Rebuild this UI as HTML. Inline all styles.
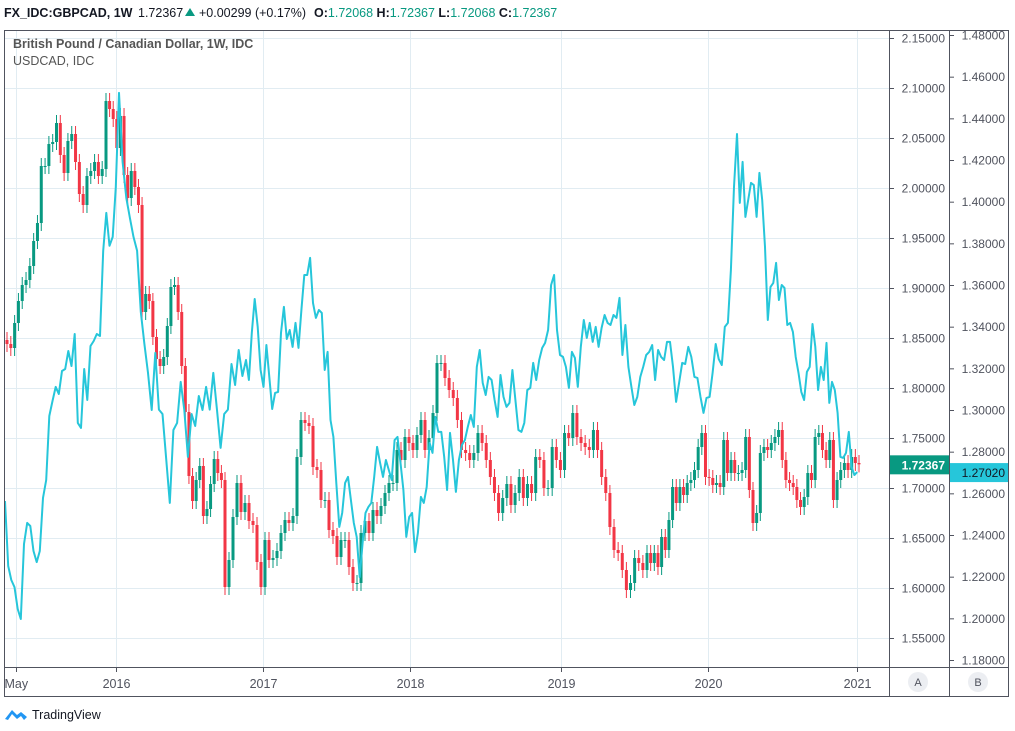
<!DOCTYPE html>
<html><head><meta charset="utf-8"><style>
html,body{margin:0;padding:0;background:#fff;width:1015px;height:731px;overflow:hidden;font-family:"Liberation Sans",sans-serif}
</style></head><body>
<svg id="chart" width="1015" height="731" xmlns="http://www.w3.org/2000/svg" font-family="Liberation Sans, sans-serif">
<g font-size="12.5">
<text x="4" y="17" fill="#131722" font-weight="bold">FX_IDC:GBPCAD, 1W</text>
<text x="138" y="17" fill="#131722">1.72367</text>
<path d="M185 16 L190 8 L195 16 Z" fill="#089981"/>
<text x="199" y="17" fill="#131722">+0.00299 (+0.17%)</text>
<text x="314" y="17" fill="#131722" font-weight="bold">O:<tspan fill="#089981" font-weight="normal">1.72068</tspan> H:<tspan fill="#089981" font-weight="normal">1.72367</tspan> L:<tspan fill="#089981" font-weight="normal">1.72068</tspan> C:<tspan fill="#089981" font-weight="normal">1.72367</tspan></text>
</g>
<g id="grid"></g>
<g id="series"></g>
<g font-size="12.5">
<text x="13" y="48" fill="#555" font-weight="bold">British Pound / Canadian Dollar, 1W, IDC</text>
<text x="13" y="65" fill="#555">USDCAD, IDC</text>
</g>
<g id="axes"></g>
<rect x="4.5" y="30.5" width="1004" height="666" fill="none" stroke="#50535e"/>
<line x1="4.5" y1="667.5" x2="1008.5" y2="667.5" stroke="#50535e"/>
<line x1="889.5" y1="30" x2="889.5" y2="697" stroke="#50535e"/>
<line x1="949.5" y1="30" x2="949.5" y2="697" stroke="#50535e"/>
<circle cx="918" cy="682" r="10" fill="#eceef2"/>
<text x="918" y="686" font-size="11" fill="#50535e" text-anchor="middle">A</text>
<circle cx="978" cy="682" r="10" fill="#eceef2"/>
<text x="978" y="686" font-size="11" fill="#50535e" text-anchor="middle">B</text>
<g>
<path d="M5 719 L12 710 L17 715 L21 712 L27 717 L24 720 L21 716 L17 719 L12 714 L8 720 Z" fill="#2196f3"/>
<text x="32" y="719" font-size="12.5" fill="#131722">TradingView</text>
</g>
</svg>
<script>
const gbpTicks=["1.55000","1.60000","1.65000","1.70000","1.75000","1.80000","1.85000","1.90000","1.95000","2.00000","2.05000","2.10000","2.15000"];
const usdTicks=["1.18000","1.20000","1.22000","1.24000","1.26000","1.28000","1.30000","1.32000","1.34000","1.36000","1.38000","1.40000","1.42000","1.44000","1.46000","1.48000"];
const timeLabels=["May","2016","2017","2018","2019","2020","2021"];
const timeLabelX=[16,116,263,410,561,708,857];
const gbpClose=[1.844,1.840,1.865,1.887,1.903,1.908,1.922,1.947,1.965,2.022,2.022,2.044,2.046,2.065,2.033,2.015,2.047,2.054,2.026,1.994,1.983,2.012,2.017,2.026,2.012,2.019,2.087,2.079,2.069,2.040,2.072,2.013,1.990,2.017,2.001,1.983,1.876,1.894,1.887,1.851,1.829,1.822,1.831,1.862,1.901,1.903,1.876,1.822,1.776,1.712,1.687,1.708,1.722,1.672,1.679,1.704,1.729,1.715,1.708,
1.601,1.628,1.671,1.705,1.676,1.685,1.667,1.663,1.626,1.601,1.648,1.628,1.63,1.637,1.655,1.668,1.665,1.672,1.731,1.768,1.765,1.762,1.721,1.718,1.688,1.688,1.658,1.652,1.631,1.648,1.648,1.621,1.605,1.605,1.655,1.667,1.655,1.678,1.672,1.682,1.695,1.705,1.705,1.738,1.728,1.751,1.745,1.738,1.753,1.768,1.738,1.75,1.775,1.825,1.825,1.81,
1.798,1.79,1.768,1.738,1.735,1.728,1.735,1.755,1.745,1.728,1.711,1.695,1.675,1.69,1.704,1.683,1.695,1.711,1.69,1.704,1.695,1.731,1.728,1.70,1.70,1.741,1.728,1.718,1.755,1.75,1.775,1.751,1.745,1.741,1.738,1.758,1.738,1.711,1.695,1.661,1.638,1.635,1.618,1.598,1.605,1.63,1.625,1.618,1.635,
1.625,1.635,1.621,1.651,1.638,1.668,1.701,1.685,1.701,1.693,1.705,1.708,1.718,1.741,1.755,1.711,1.71,1.703,1.705,1.701,1.748,1.715,1.728,1.715,1.715,1.718,1.751,1.698,1.665,1.675,1.735,1.741,1.738,1.745,1.751,1.758,1.728,1.708,1.705,1.701,1.688,1.681,1.691,1.715,1.708,1.751,1.755,1.738,1.728,1.748,1.688,1.708,1.718,1.725,1.718,1.731,1.725,1.72367];
const usdClose=[1.2563,1.2251,1.2184,1.2150,1.2045,1.1997,1.2357,1.2458,1.2443,1.2323,1.2270,1.2323,1.2578,1.2664,1.2971,1.3043,1.3111,1.3077,1.3187,1.3197,1.3283,1.3211,1.3365,1.2938,1.2914,1.3197,1.3048,1.3307,1.3331,1.3365,1.3355,1.3764,1.3946,1.3788,1.3831,1.4071,1.4522,1.4191,1.4018,1.3922,1.3831,1.3764,1.3471,1.3317,1.3178,1.3000,1.3274,1.3002,1.2981,1.2765,1.2554,1.2904,1.2938,1.3135,1.3000,1.2775,1.2981,1.2923,1.3067,1.3000,1.3111,1.3002,1.3178,1.3000,1.2818,1.2981,1.3002,1.3221,1.3120,1.3288,1.3163,
1.3240,1.3144,1.3370,1.3533,1.3399,1.3192,1.3111,1.3312,1.3159,1.3005,1.3082,1.3087,1.3370,1.3495,1.3341,1.3384,1.3303,1.3418,1.3298,1.3480,1.3648,1.3648,1.3730,1.3514,1.3442,1.3480,1.3466,1.3192,1.3279,1.2952,1.2871,1.2650,1.2439,1.2506,1.2650,1.2679,1.2568,1.2458,1.2391,1.2198,1.2362,1.2506,1.2535,1.2554,1.2679,1.2823,1.2746,1.2679,1.2760,1.2712,1.2664,1.2856,1.2871,1.2746,1.2616,1.2391,1.2487,1.2506,1.2318,1.2410,1.2583,1.2554,1.2631,1.2842,1.2794,1.2967,1.2895,1.2895,1.2775,1.2616,
1.2890,1.2760,1.2607,1.2760,1.2832,1.2856,1.2919,1.2976,1.2919,1.3207,1.3288,1.3130,1.3072,1.3159,1.3144,1.3048,1.2967,1.3168,1.3063,1.3015,1.3034,1.3192,1.3048,1.2904,1.2895,1.2938,1.3096,1.3106,1.3226,1.3144,1.3240,1.3298,1.3322,1.3384,1.3600,1.3648,1.3384,1.3264,1.3255,1.3207,1.3106,1.3279,1.3250,1.3111,1.3303,1.3432,1.3346,1.3418,1.3327,1.3399,1.3303,1.3394,1.3456,1.3418,1.3408,1.3456,1.3442,1.3538,1.3264,1.3408,1.3207,1.3111,1.3024,1.3063,1.3159,1.3207,1.3264,1.3279,1.3312,1.3144,1.3288,1.3255,1.3240,1.3327,
1.3327,1.3207,1.3039,1.3130,1.3226,1.3221,1.3303,1.3255,1.3159,1.3154,1.3063,1.2986,1.3058,1.3063,1.3178,1.3317,1.3245,1.3216,1.3399,1.3418,1.3672,1.4071,1.4325,1.3994,1.4191,1.3927,1.4008,1.4090,1.4080,1.3927,1.4138,1.4008,1.3783,1.3432,1.3591,1.3610,1.3706,1.3528,1.3600,1.3586,1.3408,1.3418,1.3375,1.3255,1.3178,1.3087,1.3048,1.3183,1.3207,1.3413,1.3303,1.3096,1.3207,1.3144,1.3322,1.3034,1.3135,1.3096,1.2986,1.2775,1.2770,1.2794,1.2895,1.2727,1.2688,1.2702];
// piecewise time-axis calibration (sample index -> time position)
const gbpAnchorIdx=[0,26,59,114,163,221];
const gbpAnchorX=[7,106,225,445,647,859];
const usdAnchorIdx=[0,36,71,141,215,237,281];
const usdAnchorX=[5,119,246,450,670,737,860];
const NS='http://www.w3.org/2000/svg';
function pw(ai,ax,i){for(let k=1;k<ai.length;k++){if(i<=ai[k]||k==ai.length-1){return ax[k-1]+(ax[k]-ax[k-1])*(i-ai[k-1])/(ai[k]-ai[k-1]);}}}
const gx=i=>pw(gbpAnchorIdx,gbpAnchorX,i);
const ux=i=>pw(usdAnchorIdx,usdAnchorX,i);
const yA=v=>488-(v-1.70)*1000;
const yB=v=>660-(v-1.18)*2083.3;
function mk(tag,attrs,parent){const e=document.createElementNS(NS,tag);for(const k in attrs)e.setAttribute(k,attrs[k]);parent.appendChild(e);return e;}
const grid=document.getElementById('grid'),ser=document.getElementById('series'),axes=document.getElementById('axes');
gbpTicks.forEach(t=>{const y=yA(parseFloat(t));
 const l=mk('line',{x1:5,x2:889,y1:y+.5,y2:y+.5,stroke:'#e1ecf2'},grid);
 
 
 const tk=mk('line',{x1:889,x2:894,y1:y+.5,y2:y+.5,stroke:'#50535e'},axes);
 
 
 const tx=mk('text',{x:945,y:y+4.5,'font-size':12,fill:'#50535e','text-anchor':'end'},axes);tx.textContent=t;
 
 
});
usdTicks.forEach(t=>{const y=yB(parseFloat(t));
 const tk=mk('line',{x1:949,x2:954,y1:y+.5,y2:y+.5,stroke:'#50535e'},axes);
 
 
 const tx=mk('text',{x:1005,y:y+4.5,'font-size':12,fill:'#50535e','text-anchor':'end'},axes);tx.textContent=t;
 
 
});
timeLabels.forEach((t,k)=>{const x=timeLabelX[k]+.5;
 const l=mk('line',{x1:x,x2:x,y1:31,y2:667,stroke:'#e1ecf2'},grid);
 
 
 const tk=mk('line',{x1:x,x2:x,y1:667,y2:672,stroke:'#50535e'},axes);
 
 
 const tx=mk('text',{x:k==0?x-12:x,y:688,'font-size':12.5,fill:'#50535e','text-anchor':k==0?'start':'middle'},axes);tx.textContent=t;
 
 
});
gbpClose.forEach((c,i)=>{const o=i?gbpClose[i-1]:c+0.004;const up=c>=o;const col=up?'#089981':'#f23645';
 const x=gx(i);const yt=yA(Math.max(o,c)),yb=yA(Math.min(o,c));
 const w=mk('line',{x1:x,x2:x,y1:yt-8,y2:yb+8,stroke:col,'stroke-width':1},ser);
 
 
 const r=mk('rect',{x:x-1.5,y:yt,width:3,height:Math.max(1,yb-yt),fill:col},ser);
 
 
});
const pts=usdClose.map((v,i)=>ux(i).toFixed(1)+','+yB(v).toFixed(1)).join(' ');
const pl=mk('polyline',{points:pts,fill:'none',stroke:'#26c6da','stroke-width':2,'stroke-linejoin':'round'},ser);


const lastA=gbpClose[gbpClose.length-1],lastB=usdClose[usdClose.length-1];
const ra=mk('rect',{x:889,y:yA(lastA)-9,width:60,height:19,fill:'#089981'},axes);


const ta=mk('text',{x:945,y:yA(lastA)+5,'font-size':12,fill:'#fff','font-weight':'bold','text-anchor':'end'},axes);ta.textContent=lastA.toFixed(5);


const rb=mk('rect',{x:949,y:yB(lastB)-9,width:60,height:19,fill:'#26c6da'},axes);


const tb=mk('text',{x:1005,y:yB(lastB)+5,'font-size':12,fill:'#131722','text-anchor':'end'},axes);tb.textContent=lastB.toFixed(5);


</script>
</body></html>
